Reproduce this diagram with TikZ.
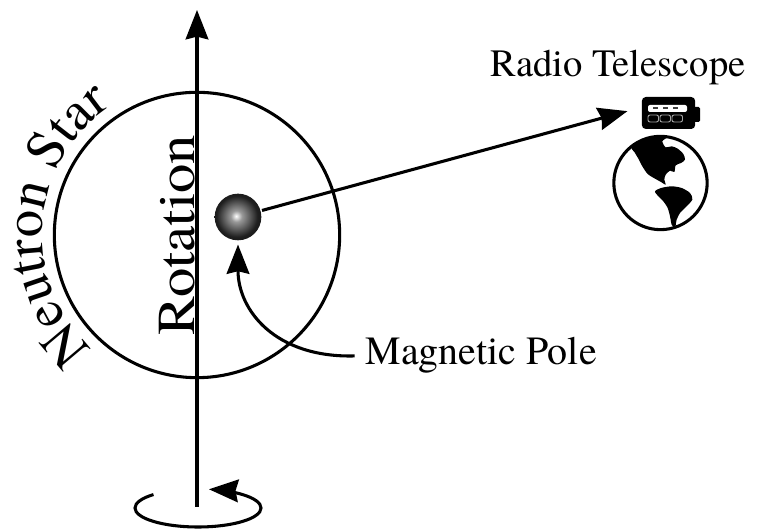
\documentclass[tikz,border=0pt]{standalone}
\usepackage{fontspec}
\setmainfont{TeX Gyre Termes}
\usetikzlibrary{arrows.meta, positioning, decorations.text}

\pgfdeclareradialshading{poleshade}{\pgfpoint{-2bp}{1bp}}{%
  color(0bp)=(white); color(6bp)=(black!40); color(22bp)=(black!88); color(50bp)=(black)}

\begin{document}
\begin{tikzpicture}[x=0.75pt, y=0.75pt, line width=2.3pt,
  tip/.style={-{Stealth[length=22pt, width=17pt, inset=2pt]}},
  lbl/.style={font=\fontsize{29}{33}\selectfont, inner sep=0pt},
  biglbl/.style={font=\fontsize{40}{44}\selectfont\addfontfeature{FakeStretch=1.1}, inner sep=0pt}]

  \useasboundingbox (0,0) rectangle (760,530);

  % neutron star and its spin axis
  \node[draw, circle, minimum size=214pt, inner sep=0pt] (star) at (197,295) {};
  \coordinate (axisbot) at (197,23);
  \coordinate (axistop) at (197,520);
  \draw[tip] (axisbot) -- (axistop);
  \node[biglbl, rotate=90, anchor=base] (rotlbl) at (194,295) {Rotation};
  \path[decorate, decoration={text along path, text align=center,
      text={|\fontsize{41}{45}\selectfont|Neutron Star}}]
    (star.center) ++(231:155) arc[start angle=231, end angle=120, radius=155];

  % spin direction
  \coordinate (spin) at (198,22);
  \draw[tip] (spin) ++(135:63 and 19) arc[start angle=135, end angle=440, x radius=63, y radius=19];

  % magnetic pole
  \node[circle, minimum size=35pt, inner sep=0pt, shade, shading=poleshade] (pole) at (238,313) {};
  \node[lbl, font=\fontsize{30}{34}\selectfont, anchor=base west] (magneticlbl) at (364,165) {Magnetic Pole};
  \draw[tip, shorten <=7pt, shorten >=2pt] (magneticlbl.west) .. controls (275,172) and (238,220) .. (pole.south);

  % radio telescope on earth
  \node[fill=black, rounded corners=3pt, minimum width=40pt, minimum height=24pt, inner sep=0pt] (tel) at (668.5,417) {};
  \fill[rounded corners=1pt] (693,408) rectangle (700,423);
  \fill[white, rounded corners=1.5pt] (648,418) rectangle (687,425);
  \foreach \dx in {655,665,675}
    \fill[black!75] (\dx-2.5,420.5) rectangle (\dx+2.5,422.5);
  \foreach \dx in {648,660,672}
    \draw[gray!70, line width=0.7pt, rounded corners=1.5pt] (\dx,408) rectangle (\dx+10.5,415);
  \node[lbl, anchor=base] (radiolbl) at (618,453) {Radio Telescope};

  \node[draw, circle, minimum size=70pt, inner sep=0pt] (globe) at (660.5,347) {};
  \begin{scope}
    \clip (globe.center) circle[radius=46];
    \begin{scope}[shift={(605,402)}, x=0.25pt, y=-0.25pt]
      % north america
      \fill plot[smooth cycle, tension=0.45] coordinates {
        (78,58) (95,40) (125,28) (160,22) (185,28) (172,40) (182,58) (200,55)
        (218,62) (235,78) (240,95) (228,105) (212,112) (208,132) (195,128)
        (182,140) (178,155) (182,170) (168,162) (150,152) (128,138) (112,115)
        (100,92) (88,72)};
      % south america
      \fill plot[smooth cycle, tension=0.45] coordinates {
        (150,190) (168,180) (200,175) (230,180) (255,195) (262,215) (240,240)
        (225,255) (215,275) (210,300) (200,290) (195,265) (188,240) (175,220)
        (160,205)};
    \end{scope}
  \end{scope}

  \draw[tip, shorten >=10pt] (pole) -- ([yshift=4pt]tel.west);
\end{tikzpicture}
\end{document}
